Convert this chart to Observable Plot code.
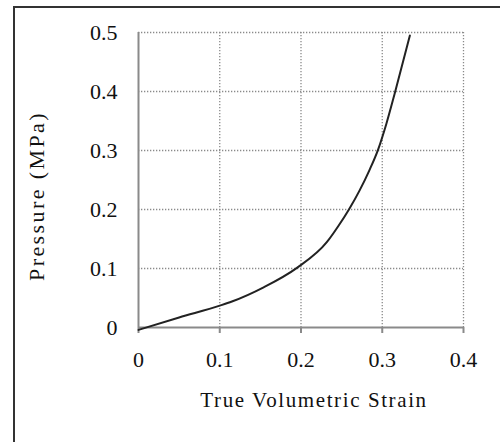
<!DOCTYPE html>
<html>
<head>
<meta charset="utf-8">
<script src="https://cdn.jsdelivr.net/npm/d3@7"></script>
<script src="https://cdn.jsdelivr.net/npm/@observablehq/plot@0.6"></script>
<style>
  html, body { margin: 0; padding: 0; background: #fff; overflow: hidden; }
  #wrap { position: relative; width: 500px; height: 442px; }
  #frame { position: absolute; left: 13px; top: 6px; width: 600px; height: 600px;
           border-left: 2px solid #333; border-top: 2px solid #333; pointer-events: none; }
</style>
</head>
<body>
<div id="wrap"><div id="frame"></div></div>
<script>
// Data
const strain   = [0, 0.05, 0.1, 0.115, 0.154, 0.195, 0.232, 0.246, 0.259, 0.272, 0.284, 0.295, 0.305, 0.315, 0.334];
const pressure = [-0.004, 0.017, 0.037, 0.044, 0.068, 0.101, 0.145, 0.172, 0.2, 0.232, 0.266, 0.302, 0.345, 0.395, 0.495];
const xTicks = [0, 0.1, 0.2, 0.3, 0.4];
const yTicks = [0, 0.1, 0.2, 0.3, 0.4, 0.5];
const xLabel = "True Volumetric Strain";
const yLabel = "Pressure (MPa)";

const rows = strain.map((s, i) => ({strain: s, pressure: pressure[i]}));
const serif = "'Liberation Serif', 'Times New Roman', serif";
const fmt = d => String(d);

const chart = Plot.plot({
  width: 500,
  height: 442,
  marginLeft: 138,
  marginRight: 37,
  marginTop: 32,
  marginBottom: 115,
  style: {fontFamily: serif, fontSize: "22px", color: "#111", background: "transparent"},
  x: {domain: [0, 0.4], ticks: xTicks},
  y: {domain: [0, 0.5], ticks: yTicks},
  marks: [
    Plot.gridX(xTicks.slice(1), {stroke: "#8a8a8a", strokeOpacity: 1, strokeWidth: 1.3, strokeDasharray: "1.3,1.7"}),
    Plot.gridY(yTicks.slice(1), {stroke: "#8a8a8a", strokeOpacity: 1, strokeWidth: 1.3, strokeDasharray: "1.3,1.7"}),
    Plot.ruleX([0], {stroke: "#8a8a8a", strokeWidth: 2}),
    Plot.ruleY([0], {stroke: "#8a8a8a", strokeWidth: 2}),
    Plot.axisX(xTicks, {tickSize: 6, tickPadding: 18, stroke: "#8a8a8a", strokeWidth: 2, fontSize: 22,
      label: null, fill: "#111", tickFormat: fmt}),
    Plot.axisY(yTicks, {tickSize: 0, tickPadding: 21, fontSize: 22, label: null, fill: "#111", tickFormat: fmt}),
    Plot.line(rows, {x: "strain", y: "pressure", stroke: "#222", strokeWidth: 2, curve: "monotone-x"}),
    Plot.text([xLabel], {frameAnchor: "bottom", dx: 13, dy: 73, fontSize: 21, fill: "#111",
      fontFamily: serif, lineAnchor: "middle", textAnchor: "middle", text: d => d}),
    Plot.text([yLabel], {frameAnchor: "left", dx: -102, dy: 16, rotate: -90, fontSize: 22, fill: "#111",
      fontFamily: serif, lineAnchor: "middle", textAnchor: "middle", text: d => d})
  ]
});

document.getElementById("wrap").prepend(chart);
// letter spacing on axis titles to match the reference's wide typesetting
d3.select(chart).selectAll("text").each(function() {
  const t = this.textContent;
  if (t === xLabel) this.setAttribute("letter-spacing", "1.6");
  if (t === yLabel) this.setAttribute("letter-spacing", "2.4");
});
</script>
</body>
</html>
